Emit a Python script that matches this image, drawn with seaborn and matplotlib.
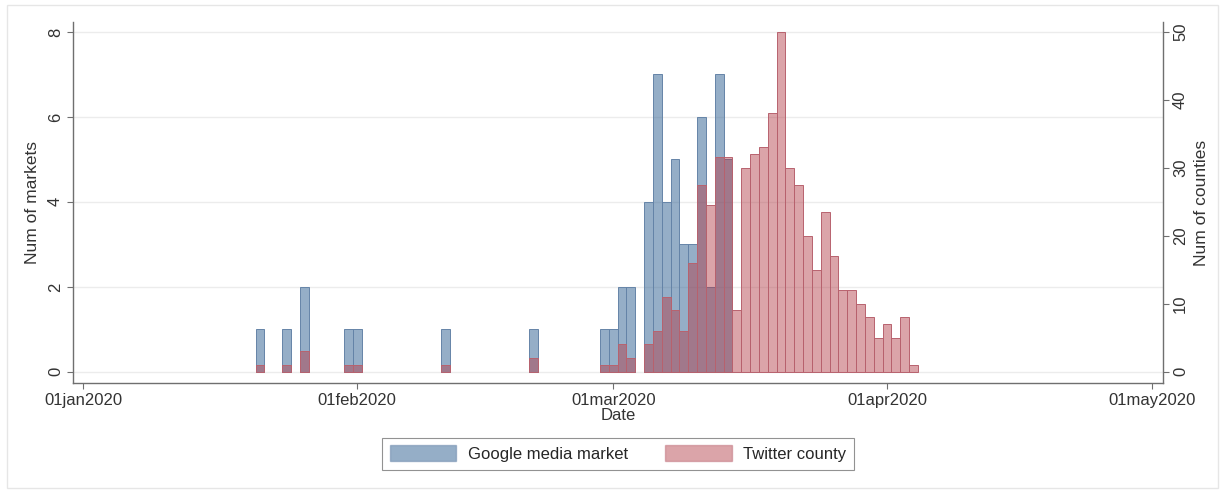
import matplotlib
matplotlib.use("Agg")
import pandas as pd
import matplotlib.pyplot as plt
import matplotlib.dates as mdates
from matplotlib.patches import Patch, Rectangle
import seaborn as sns

# daily counts of first detections
google_dates = ["2020-01-21", "2020-01-24", "2020-01-26", "2020-01-31", "2020-02-01",
                "2020-02-11", "2020-02-21", "2020-02-29", "2020-03-01", "2020-03-02",
                "2020-03-03", "2020-03-05", "2020-03-06", "2020-03-07", "2020-03-08",
                "2020-03-09", "2020-03-10", "2020-03-11", "2020-03-12", "2020-03-13",
                "2020-03-14"]
google_markets = [1, 1, 2, 1, 1, 1, 1, 1, 1, 2, 2, 4, 7, 4, 5, 3, 3, 6, 2, 7, 5]

twitter_dates = ["2020-01-21", "2020-01-24", "2020-01-26", "2020-01-31", "2020-02-01",
                 "2020-02-11", "2020-02-21", "2020-02-29", "2020-03-01", "2020-03-02",
                 "2020-03-03", "2020-03-05", "2020-03-06", "2020-03-07", "2020-03-08",
                 "2020-03-09", "2020-03-10", "2020-03-11", "2020-03-12", "2020-03-13",
                 "2020-03-14", "2020-03-15", "2020-03-16", "2020-03-17", "2020-03-18",
                 "2020-03-19", "2020-03-20", "2020-03-21", "2020-03-22", "2020-03-23",
                 "2020-03-24", "2020-03-25", "2020-03-26", "2020-03-27", "2020-03-28",
                 "2020-03-29", "2020-03-30", "2020-03-31", "2020-04-01", "2020-04-02",
                 "2020-04-03", "2020-04-04"]
twitter_counties = [1, 1, 3, 1, 1, 1, 2, 1, 1, 4, 2, 4, 6, 11, 9, 6, 16, 27.5, 24.5, 31.5,
                    31.5, 9, 30, 32, 33, 38, 50, 30, 27.5, 20, 15, 23.5, 17, 12, 12, 10,
                    8, 5, 7, 5, 8, 1]

tick_dates = ["2020-01-01", "2020-02-01", "2020-03-01", "2020-04-01", "2020-05-01"]
tick_labels = ["01jan2020", "01feb2020", "01mar2020", "01apr2020", "01may2020"]

google = pd.DataFrame({"day": mdates.date2num(pd.to_datetime(google_dates)),
                       "n": google_markets})
twitter = pd.DataFrame({"day": mdates.date2num(pd.to_datetime(twitter_dates)),
                        "n": twitter_counties})

sns.set_style("white")
plt.rcParams["font.family"] = ["Liberation Sans", "DejaVu Sans"]
plt.rcParams["font.size"] = 12

blue = "#2d5f91"
red = "#b13742"
blue_edge = "#6584a8"
red_edge = "#b8626e"
axis_grey = "#6f6f6f"
text_grey = "#333333"
fs = 12

fig = plt.figure(figsize=(12.25, 4.93), dpi=100)
ax = fig.add_axes([0.0593, 0.2225, 0.8904, 0.7335])
ax2 = ax.twinx()

sns.histplot(data=google, x="day", weights="n", discrete=True, ax=ax,
             color=blue, alpha=0.5, edgecolor=blue_edge, linewidth=0.7)
sns.histplot(data=twitter, x="day", weights="n", discrete=True, ax=ax2,
             color=red, alpha=0.45, edgecolor=red_edge, linewidth=0.7)

# empty bins between dates would otherwise leave an outline on the baseline
for a in (ax, ax2):
    for p in a.patches:
        if p.get_height() == 0:
            p.set_visible(False)

start = mdates.date2num(pd.Timestamp("2020-01-01"))
ax.set_xlim(start - 1.22, start + 122.3)
ax.set_ylim(-0.27, 8.24)
ax2.set_ylim(-1.71, 51.47)

ax.set_yticks([0, 2, 4, 6, 8])
ax2.set_yticks([0, 10, 20, 30, 40, 50])
ax.set_xticks(mdates.date2num(pd.to_datetime(tick_dates)))
ax.set_xticklabels(tick_labels)

ax.yaxis.grid(True, color="#ececec", linewidth=1)
ax.set_axisbelow(True)

for a in (ax, ax2):
    for s in a.spines.values():
        s.set_color(axis_grey)
        s.set_linewidth(1)
    a.spines["top"].set_visible(False)
ax.spines["right"].set_visible(False)
ax2.spines["left"].set_visible(False)
ax2.spines["bottom"].set_visible(False)

ax.tick_params(axis="both", direction="out", length=4, width=0.8, color=axis_grey,
               labelcolor=text_grey, labelsize=fs, pad=3)
ax.tick_params(axis="x", bottom=True)
ax.tick_params(axis="y", left=True, labelrotation=90)
ax2.tick_params(axis="y", right=True, direction="out", length=4, width=0.8,
                color=axis_grey, labelcolor=text_grey, labelsize=fs, labelrotation=90, pad=3)
for lab in ax.get_yticklabels() + ax2.get_yticklabels():
    lab.set_va("center")

ax.set_xlabel("Date", fontsize=fs, color=text_grey, labelpad=0)
ax.set_ylabel("Num of markets", fontsize=12.5, color=text_grey, labelpad=6)
ax2.set_ylabel("Num of counties", fontsize=12.5, color=text_grey, labelpad=4)

handles = [Patch(facecolor=blue, alpha=0.5, edgecolor=blue_edge, label="Google media market"),
           Patch(facecolor=red, alpha=0.45, edgecolor=red_edge, label="Twitter county")]
leg = fig.legend(handles=handles, loc="center", bbox_to_anchor=(0.5045, 0.0795), ncol=2,
                 frameon=True, fancybox=False, edgecolor="#777777", fontsize=fs,
                 handlelength=4.0, handleheight=1.1, columnspacing=2.2,
                 borderpad=0.45, handletextpad=0.7)
leg.get_frame().set_linewidth(0.8)

fig.patches.append(Rectangle((7 / 1225, 5 / 493), 1211 / 1225, 483 / 493,
                             transform=fig.transFigure, fill=False,
                             edgecolor="#e6e6e6", linewidth=1))

fig.savefig("out.png", dpi=100)
